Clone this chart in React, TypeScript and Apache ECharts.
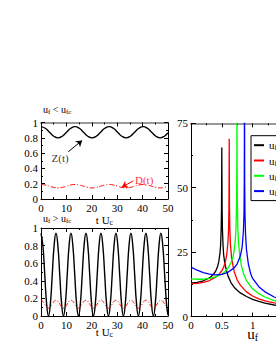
import React, { useEffect, useRef } from 'react';
import * as echarts from 'echarts';

const FONT = '"Liberation Serif", "DejaVu Serif", serif';

// ---------- top-left panel (u_f < u_fc) ----------
const tTop = [0, 1.68, 3.35, 5.03, 6.7, 8.38, 10.05, 11.73, 13.4, 15.08, 16.75, 18.43, 20.1, 21.78, 23.45, 25.13, 26.8, 28.48, 30.15, 31.83, 33.5, 35.18, 36.85, 38.53, 40.2, 41.88, 43.55, 45.23, 46.9, 48.58, 50];
const zTop = [0.945, 0.924, 0.873, 0.821, 0.8, 0.821, 0.873, 0.924, 0.945, 0.924, 0.873, 0.821, 0.8, 0.821, 0.873, 0.924, 0.945, 0.924, 0.873, 0.821, 0.8, 0.821, 0.873, 0.924, 0.945, 0.924, 0.873, 0.821, 0.8, 0.821, 0.866];
const dTop = [0.19, 0.183, 0.168, 0.152, 0.145, 0.152, 0.168, 0.183, 0.19, 0.183, 0.168, 0.152, 0.145, 0.152, 0.168, 0.183, 0.19, 0.183, 0.168, 0.152, 0.145, 0.152, 0.168, 0.183, 0.19, 0.183, 0.168, 0.152, 0.145, 0.152, 0.165];

// ---------- bottom-left panel (u_f > u_fc) ----------
const tBot = [0, 0.74, 1.48, 2.21, 2.95, 3.69, 4.43, 5.16, 5.9, 6.64, 7.38, 8.11, 8.85, 9.59, 10.33, 11.06, 11.8, 12.54, 13.28, 14.01, 14.75, 15.49, 16.23, 16.96, 17.7, 18.44, 19.18, 19.91, 20.65, 21.39, 22.13, 22.86, 23.6, 24.34, 25.08, 25.81, 26.55, 27.29, 28.03, 28.76, 29.5, 30.24, 30.98, 31.71, 32.45, 33.19, 33.93, 34.66, 35.4, 36.14, 36.88, 37.61, 38.35, 39.09, 39.83, 40.56, 41.3, 42.04, 42.78, 43.51, 44.25, 44.99, 45.73, 46.46, 47.2, 47.94, 48.68, 49.41, 50];
const zBot = [0.94, 0.8, 0.47, 0.14, 0, 0.14, 0.47, 0.8, 0.94, 0.8, 0.47, 0.14, 0, 0.14, 0.47, 0.8, 0.94, 0.8, 0.47, 0.14, 0, 0.14, 0.47, 0.8, 0.94, 0.8, 0.47, 0.14, 0, 0.14, 0.47, 0.8, 0.94, 0.8, 0.47, 0.14, 0, 0.14, 0.47, 0.8, 0.94, 0.8, 0.47, 0.14, 0, 0.14, 0.47, 0.8, 0.94, 0.8, 0.47, 0.14, 0, 0.14, 0.47, 0.8, 0.94, 0.8, 0.47, 0.14, 0, 0.14, 0.47, 0.8, 0.94, 0.8, 0.47, 0.14, 0.01];
const dBot = [0.18, 0.167, 0.135, 0.103, 0.09, 0.103, 0.135, 0.167, 0.18, 0.167, 0.135, 0.103, 0.09, 0.103, 0.135, 0.167, 0.18, 0.167, 0.135, 0.103, 0.09, 0.103, 0.135, 0.167, 0.18, 0.167, 0.135, 0.103, 0.09, 0.103, 0.135, 0.167, 0.18, 0.167, 0.135, 0.103, 0.09, 0.103, 0.135, 0.167, 0.18, 0.167, 0.135, 0.103, 0.09, 0.103, 0.135, 0.167, 0.18, 0.167, 0.135, 0.103, 0.09, 0.103, 0.135, 0.167, 0.18, 0.167, 0.135, 0.103, 0.09, 0.103, 0.135, 0.167, 0.18, 0.167, 0.135, 0.103, 0.092];

// ---------- right panel ----------
const uBlack = [0, 0.1, 0.2, 0.3, 0.35, 0.4, 0.43, 0.45, 0.47, 0.48, 0.49, 0.495, 0.498, 0.5, 0.502, 0.505, 0.51, 0.52, 0.53, 0.55, 0.6, 0.65, 0.7, 0.75, 0.8, 0.9, 1.0, 1.1, 1.2, 1.35, 1.5, 1.75, 2.0];
const dBlack = [13.0, 13.3, 13.9, 15.0, 16.0, 17.6, 19.3, 21.2, 24.5, 27.5, 34, 42, 55, 65.6, 55, 42, 34, 27.5, 24, 20.3, 15.8, 13.1, 11.4, 10.2, 9.2, 7.8, 6.7, 5.9, 5.2, 4.5, 4.0, 3.3, 2.8];
const uRed = [0, 0.1, 0.2, 0.3, 0.4, 0.45, 0.5, 0.53, 0.56, 0.58, 0.6, 0.61, 0.615, 0.618, 0.62, 0.622, 0.625, 0.63, 0.64, 0.66, 0.7, 0.75, 0.8, 0.9, 1.0, 1.1, 1.2, 1.35, 1.5, 1.75, 2.0];
const dRed = [12.8, 12.9, 13.3, 14.0, 15.3, 16.3, 17.8, 19.2, 21.5, 24, 29, 34, 42, 55, 69, 55, 42, 34, 28, 22.5, 17.5, 14.2, 12.2, 9.6, 8.0, 6.9, 6.1, 5.3, 4.7, 3.9, 3.3];
const uGreen = [0, 0.1, 0.2, 0.3, 0.4, 0.5, 0.55, 0.6, 0.65, 0.68, 0.7, 0.72, 0.73, 0.74, 0.744, 0.746, 0.748, 0.752, 0.76, 0.77, 0.79, 0.82, 0.86, 0.9, 1.0, 1.1, 1.2, 1.35, 1.5, 1.75, 2.0];
const dGreen = [14.6, 14.5, 14.5, 14.8, 15.4, 16.5, 17.4, 18.8, 21, 23, 25.5, 30, 34, 45, 60, 90, 60, 45, 34, 29, 24, 19.5, 16.2, 14, 10.8, 8.9, 7.6, 6.2, 5.3, 4.3, 3.6];
const uBlue = [0, 0.1, 0.2, 0.3, 0.4, 0.5, 0.6, 0.7, 0.75, 0.8, 0.83, 0.85, 0.86, 0.865, 0.868, 0.871, 0.876, 0.885, 0.9, 0.93, 0.97, 1.0, 1.1, 1.2, 1.35, 1.5, 1.75, 2.0];
const dBlue = [19.2, 18.0, 17.1, 16.5, 16.2, 16.4, 17.2, 18.9, 20.5, 23.5, 27, 33, 40, 52, 90, 52, 40, 32, 26, 20.5, 16.5, 14.8, 11.6, 9.6, 7.6, 6.3, 5.0, 4.2];

const seriesNames = ['c050', 'c062', 'c075', 'c087'];
const legendLabels: Record<string, string> = {
  c050: '{n|u}{s|fc}{n| = 0.50}',
  c062: '{n|u}{s|fc}{n| = 0.62}',
  c075: '{n|u}{s|fc}{n| = 0.75}',
  c087: '{n|u}{s|fc}{n| = 0.87}',
};

export default function App() {
  const ref = useRef<HTMLDivElement>(null);
  useEffect(() => {
    const chart = echarts.init(ref.current!, null, { renderer: 'svg' });
    const pairs = (xs: number[], ys: number[]) => xs.map((x, i) => [x, ys[i]]);
    const rich = (fs: number, sub: number) => ({
      n: { fontFamily: FONT, fontSize: fs, color: '#000', lineHeight: fs + 2, verticalAlign: 'middle' },
      s: { fontFamily: FONT, fontSize: sub, color: '#000', lineHeight: sub, verticalAlign: 'bottom' },
    });
    const label = { show: true, margin: 3, fontFamily: FONT, fontSize: 11, color: '#000' };
    const xAx = (gridIndex: number, min: number, max: number, interval: number, pos: 'bottom' | 'top', extra: any = {}) => ({
      type: 'value', gridIndex, min, max, interval, position: pos,
      axisLine: { show: true, onZero: false, lineStyle: { color: extra.lineColor || '#000', width: extra.lineWidth || 1 } },
      axisTick: { show: true, inside: true, length: 4, lineStyle: { color: '#000', width: 1 } },
      minorTick: { show: true, splitNumber: 2, length: 2, lineStyle: { color: '#000', width: 1 } },
      splitLine: { show: false },
      axisLabel: pos === 'bottom' ? label : { show: false },
      name: extra.name, nameLocation: 'middle', nameGap: extra.nameGap, nameMoveOverlap: false,
      nameTextStyle: { rich: extra.rich },
    });
    const yAx = (gridIndex: number, min: number, max: number, interval: number, pos: 'left' | 'right', tickLen = 4) => ({
      type: 'value', gridIndex, min, max, interval, position: pos,
      axisLine: { show: true, onZero: false, lineStyle: { color: '#000', width: 1 } },
      axisTick: { show: true, inside: true, length: tickLen, lineStyle: { color: '#000', width: 1 } },
      minorTick: { show: true, splitNumber: 2, length: 2, lineStyle: { color: '#000', width: 1 } },
      splitLine: { show: false },
      axisLabel: pos === 'left' ? label : { show: false },
    });
    const tName = '{n|t U}{s|c}';
    const option: any = {
      animation: false,
      backgroundColor: '#fff',
      grid: [
        { left: 41, top: 122.5, width: 127, height: 76.5 },
        { left: 41, top: 228, width: 127, height: 88 },
        { left: 191, top: 123.3, width: 126, height: 193.3 },
      ],
      xAxis: [
        xAx(0, 0, 50, 10, 'bottom', { name: tName, nameGap: 14, rich: rich(11, 8) }),
        xAx(0, 0, 50, 10, 'top', { lineColor: '#999', lineWidth: 2 }),
        xAx(1, 0, 50, 10, 'bottom', { name: tName, nameGap: 9, rich: rich(11, 8) }),
        xAx(1, 0, 50, 10, 'top'),
        xAx(2, 0, 2, 0.5, 'bottom', { name: '{n|u}{s|f}', nameGap: 9, rich: rich(15, 10) }),
        xAx(2, 0, 2, 0.5, 'top', { lineColor: '#999', lineWidth: 2 }),
      ],
      yAxis: [
        yAx(0, 0, 1, 0.2, 'left'),
        yAx(0, 0, 1, 0.2, 'right'),
        yAx(1, 0, 1, 0.2, 'left'),
        yAx(1, 0, 1, 0.2, 'right'),
        yAx(2, 0, 75, 25, 'left', 5),
        yAx(2, 0, 75, 25, 'right', 5),
      ],
      legend: {
        data: seriesNames,
        orient: 'vertical',
        left: 251, top: 135.7,
        borderColor: '#000', borderWidth: 1,
        padding: [3, 4, 3, 3],
        itemGap: 2.3, itemWidth: 10, itemHeight: 2, icon: 'rect',
        formatter: (n: string) => legendLabels[n],
        textStyle: { fontFamily: FONT, fontSize: 11, color: '#000', lineHeight: 13, rich: rich(11, 8) },
      },
      series: [
        {
          type: 'line', xAxisIndex: 0, yAxisIndex: 0, data: pairs(tTop, zTop), smooth: 0.5,
          showSymbol: false, symbol: 'none', lineStyle: { color: '#000', width: 1.3 },
          markLine: {
            silent: true, symbol: ['none', 'arrow'], symbolSize: 6, label: { show: false },
            lineStyle: { color: '#000', width: 1, type: 'solid' },
            data: [[{ coord: [10.75, 0.618] }, { coord: [16.2, 0.765] }]],
          },
        },
        {
          type: 'line', xAxisIndex: 0, yAxisIndex: 0, data: pairs(tTop, dTop), smooth: 0.5,
          showSymbol: false, symbol: 'none', lineStyle: { color: '#ff0000', width: 1, type: [5, 2, 1, 2] },
          markLine: {
            silent: true, symbol: ['none', 'arrow'], symbolSize: 6, label: { show: false },
            lineStyle: { color: '#ff0000', width: 1, type: 'solid' },
            data: [[{ coord: [36.3, 0.235] }, { coord: [31.8, 0.155] }]],
          },
        },
        {
          type: 'scatter', xAxisIndex: 0, yAxisIndex: 0, data: [[7.5, 0.535]], symbolSize: 1,
          itemStyle: { color: 'transparent' }, silent: true,
          label: { show: true, position: 'inside', formatter: 'Z(t)', fontFamily: FONT, fontSize: 11, color: '#000' },
        },
        {
          type: 'scatter', xAxisIndex: 0, yAxisIndex: 0, data: [[40.6, 0.25]], symbolSize: 1,
          itemStyle: { color: 'transparent' }, silent: true,
          label: { show: true, position: 'inside', formatter: 'D(t)', fontFamily: FONT, fontSize: 11, color: '#ff0000' },
        },
        {
          type: 'line', xAxisIndex: 2, yAxisIndex: 2, data: pairs(tBot, zBot), smooth: 0.5,
          showSymbol: false, symbol: 'none', lineStyle: { color: '#000', width: 1.4 },
        },
        {
          type: 'line', xAxisIndex: 2, yAxisIndex: 2, data: pairs(tBot, dBot), smooth: 0.5,
          showSymbol: false, symbol: 'none', lineStyle: { color: '#ff0000', width: 1, type: [4, 2, 1, 2] },
        },
        { name: seriesNames[0], type: 'line', xAxisIndex: 4, yAxisIndex: 4, data: pairs(uBlack, dBlack), showSymbol: false, symbol: 'none', itemStyle: { color: '#000' }, lineStyle: { color: '#000', width: 1.3 } },
        { name: seriesNames[1], type: 'line', xAxisIndex: 4, yAxisIndex: 4, data: pairs(uRed, dRed), showSymbol: false, symbol: 'none', itemStyle: { color: '#ff0000' }, lineStyle: { color: '#ff0000', width: 1.3 } },
        { name: seriesNames[2], type: 'line', xAxisIndex: 4, yAxisIndex: 4, data: pairs(uGreen, dGreen), showSymbol: false, symbol: 'none', itemStyle: { color: '#00ff00' }, lineStyle: { color: '#00ff00', width: 1.3 } },
        { name: seriesNames[3], type: 'line', xAxisIndex: 4, yAxisIndex: 4, data: pairs(uBlue, dBlue), showSymbol: false, symbol: 'none', itemStyle: { color: '#0000ff' }, lineStyle: { color: '#0000ff', width: 1.3 } },
      ],
      graphic: [
        { type: 'text', left: 43, top: 104, style: { text: '{n|u}{s|f}{n| < u}{s|fc}', rich: rich(10, 7) } },
        { type: 'text', left: 43, top: 213, style: { text: '{n|u}{s|f}{n| > u}{s|fc}', rich: rich(10, 7) } },
      ],
    };
    chart.setOption(option);
    return () => chart.dispose();
  }, []);
  return <div ref={ref} style={{ position: 'fixed', left: 0, top: 0, width: 320, height: 358 }} />;
}
